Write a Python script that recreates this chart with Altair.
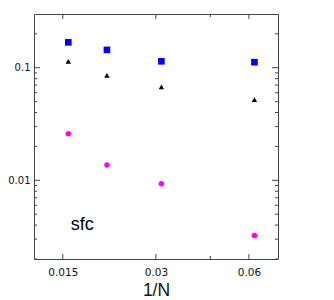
import altair as alt
import pandas as pd

# data
inv_n = [0.015625, 0.020833, 0.03125, 0.0625]
squares = [0.168, 0.144, 0.114, 0.112]
triangles = [0.114, 0.0855, 0.0677, 0.0521]
circles = [0.0259, 0.0137, 0.0093, 0.00323]

x_major = [0.015, 0.03, 0.06]
x_minor = [0.045]
y_major = [0.01, 0.1]
y_minor = [0.002, 0.003, 0.004, 0.005, 0.006, 0.007, 0.008, 0.009,
           0.02, 0.03, 0.04, 0.05, 0.06, 0.07, 0.08, 0.09, 0.2]

label_text = ["sfc"]
label_x = [0.0159]
label_y = [0.0036]

W, H = 244, 245

xscale = alt.Scale(type="log", domain=[0.0121, 0.0745], nice=False)
yscale = alt.Scale(type="log", domain=[0.002, 0.3], nice=False)

xaxis = alt.Axis(values=x_major, format="~g", title="1/N", grid=False, domain=False,
                 ticks=False, labelFont="DejaVu Sans", labelFontSize=10.5, labelColor="#111",
                 labelPadding=8, titleFont="Liberation Sans", titleFontSize=17.5,
                 titleFontWeight="normal", titleColor="#111", titlePadding=4)
yaxis = alt.Axis(values=y_major, format="~g", title=None, grid=False, domain=False,
                 ticks=False, labelFont="DejaVu Sans", labelFontSize=10, labelColor="#111",
                 labelPadding=4)

pts = pd.DataFrame({
    "x": inv_n * 3,
    "y": squares + triangles + circles,
    "s": ["sq"] * 4 + ["tri"] * 4 + ["circ"] * 4,
})

def series(name, shape, color, size):
    return alt.Chart(pts[pts.s == name]).mark_point(
        shape=shape, filled=True, color=color, size=size, opacity=1
    ).encode(
        x=alt.X("x:Q", scale=xscale, axis=xaxis),
        y=alt.Y("y:Q", scale=yscale, axis=yaxis),
    )

sq = series("sq", "square", "#0000ff", 44)
tri = series("tri", "triangle-up", "#000000", 30)
circ = series("circ", "circle", "#ff00ff", 30)

tick_color = "#444"

def xticks(vals, length):
    df = pd.DataFrame({"v": vals})
    bottom = alt.Chart(df).mark_rule(color=tick_color, strokeWidth=1).encode(
        x=alt.X("v:Q", scale=xscale, axis=xaxis), y=alt.value(H), y2=alt.value(H - length))
    top = alt.Chart(df).mark_rule(color=tick_color, strokeWidth=1).encode(
        x=alt.X("v:Q", scale=xscale, axis=xaxis), y=alt.value(0), y2=alt.value(length))
    return [bottom, top]

def yticks(vals, length):
    df = pd.DataFrame({"v": vals})
    left = alt.Chart(df).mark_rule(color=tick_color, strokeWidth=1).encode(
        y=alt.Y("v:Q", scale=yscale, axis=yaxis), x=alt.value(0), x2=alt.value(length))
    right = alt.Chart(df).mark_rule(color=tick_color, strokeWidth=1).encode(
        y=alt.Y("v:Q", scale=yscale, axis=yaxis), x=alt.value(W), x2=alt.value(W - length))
    return [left, right]

ticks = xticks(x_major, 5) + xticks(x_minor, 3) + yticks(y_major, 6) + yticks(y_minor, 3)

lab = alt.Chart(pd.DataFrame({"t": label_text, "x": label_x, "y": label_y})).mark_text(
    align="left", baseline="alphabetic", font="Liberation Sans", fontSize=18, color="#000"
).encode(
    x=alt.X("x:Q", scale=xscale, axis=xaxis),
    y=alt.Y("y:Q", scale=yscale, axis=yaxis),
    text="t:N",
)

chart = alt.layer(*ticks, circ, tri, sq, lab).properties(
    width=W, height=H,
    autosize=alt.AutoSizeParams(type="none"),
    padding={"left": 26, "top": 6, "right": 40, "bottom": 45},
).configure_view(stroke="#444", strokeWidth=1)

chart.save("out.html", embed_options={"renderer": "svg", "actions": False})
